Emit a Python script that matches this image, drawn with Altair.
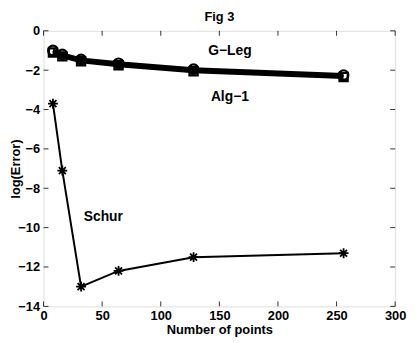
import altair as alt
import pandas as pd

points = [8, 16, 32, 64, 128, 256]
gleg = [-1.0, -1.2, -1.45, -1.65, -1.95, -2.25]
alg1 = [-1.1, -1.3, -1.55, -1.75, -2.05, -2.35]
schur = [-3.7, -7.1, -13.0, -12.2, -11.5, -11.3]

label_text = ["G\u2212Leg", "Alg\u22121", "Schur"]
label_x = [159, 159, 51]
label_y = [-1.05, -3.35, -9.45]

x_ticks = [0, 50, 100, 150, 200, 250, 300]
y_ticks = [0, -2, -4, -6, -8, -10, -12, -14]

FONT = "Liberation Sans"
W, H = 356, 279

df = pd.DataFrame({"n": points, "gleg": gleg, "alg1": alg1, "schur": schur})
lab = pd.DataFrame({"t": label_text, "x": label_x, "y": label_y})
xt = pd.DataFrame({"v": x_ticks})
yt = pd.DataFrame({"v": y_ticks})

xs = alt.Scale(domain=[0, 300], nice=False)
ys = alt.Scale(domain=[-14, 0], nice=False)

common = dict(tickSize=0, domain=False, grid=False,
              labelFont=FONT, labelFontSize=13, labelFontWeight="bold", labelColor="black",
              titleFont=FONT, titleFontSize=13, titleFontWeight="bold", titleColor="black")
XAX = alt.Axis(values=x_ticks, title="Number of points", format="d", labelFlush=False,
               labelPadding=3, titlePadding=1, **common)
YAX = alt.Axis(values=y_ticks, title="log(Error)", labelExpr="replace(datum.label, '-', '\u2212')",
               labelPadding=4, titleX=-24, titleBaseline="alphabetic", **common)


def xenc(field):
    return alt.X(field, scale=xs, axis=XAX, title="Number of points")


def yenc(field):
    return alt.Y(field, scale=ys, axis=YAX, title="log(Error)")


base = alt.Chart(df)
asterisk = "M-1,0L1,0M0,-1L0,1M-0.7,-0.7L0.7,0.7M-0.7,0.7L0.7,-0.7"


def series(col, width, shape, size, sw):
    line = base.mark_line(color="black", strokeWidth=width).encode(
        x=xenc("n:Q"), y=yenc(f"{col}:Q"))
    pts = base.mark_point(color="black", shape=shape, size=size, strokeWidth=sw, filled=False, opacity=1).encode(
        x=xenc("n:Q"), y=yenc(f"{col}:Q"))
    return line + pts


l_alg = series("alg1", 4, "square", 70, 2.2)
l_gleg = series("gleg", 4, "circle", 95, 2.2)
l_schur = series("schur", 2, asterisk, 100, 1.8)

texts = alt.Chart(lab).mark_text(font=FONT, fontWeight="bold", fontSize=14, color="black").encode(
    x=xenc("x:Q"), y=yenc("y:Q"), text="t:N")

xtick_b = alt.Chart(xt).mark_rule(color="black", strokeWidth=0.8).encode(
    x=xenc("v:Q"), y=alt.value(H), y2=alt.value(H - 5))
xtick_t = alt.Chart(xt).mark_rule(color="black", strokeWidth=0.8).encode(
    x=xenc("v:Q"), y=alt.value(0), y2=alt.value(5))
ytick_l = alt.Chart(yt).mark_rule(color="black", strokeWidth=0.8).encode(
    y=yenc("v:Q"), x=alt.value(0), x2=alt.value(5))
ytick_r = alt.Chart(yt).mark_rule(color="black", strokeWidth=0.8).encode(
    y=yenc("v:Q"), x=alt.value(W), x2=alt.value(W - 5))

chart = alt.layer(
    xtick_b, xtick_t, ytick_l, ytick_r,
    l_alg, l_gleg, l_schur, texts
).properties(
    width=W, height=H,
    title=alt.TitleParams("Fig 3", font=FONT, fontSize=13, fontWeight="bold", offset=1),
    autosize=alt.AutoSizeParams(type="none"),
    padding={"left": 36, "top": 21, "right": 12, "bottom": 35},
).configure_view(stroke="black", strokeWidth=1).configure(background="white")

chart.save("out.html", embed_options={"renderer": "svg", "actions": False})
